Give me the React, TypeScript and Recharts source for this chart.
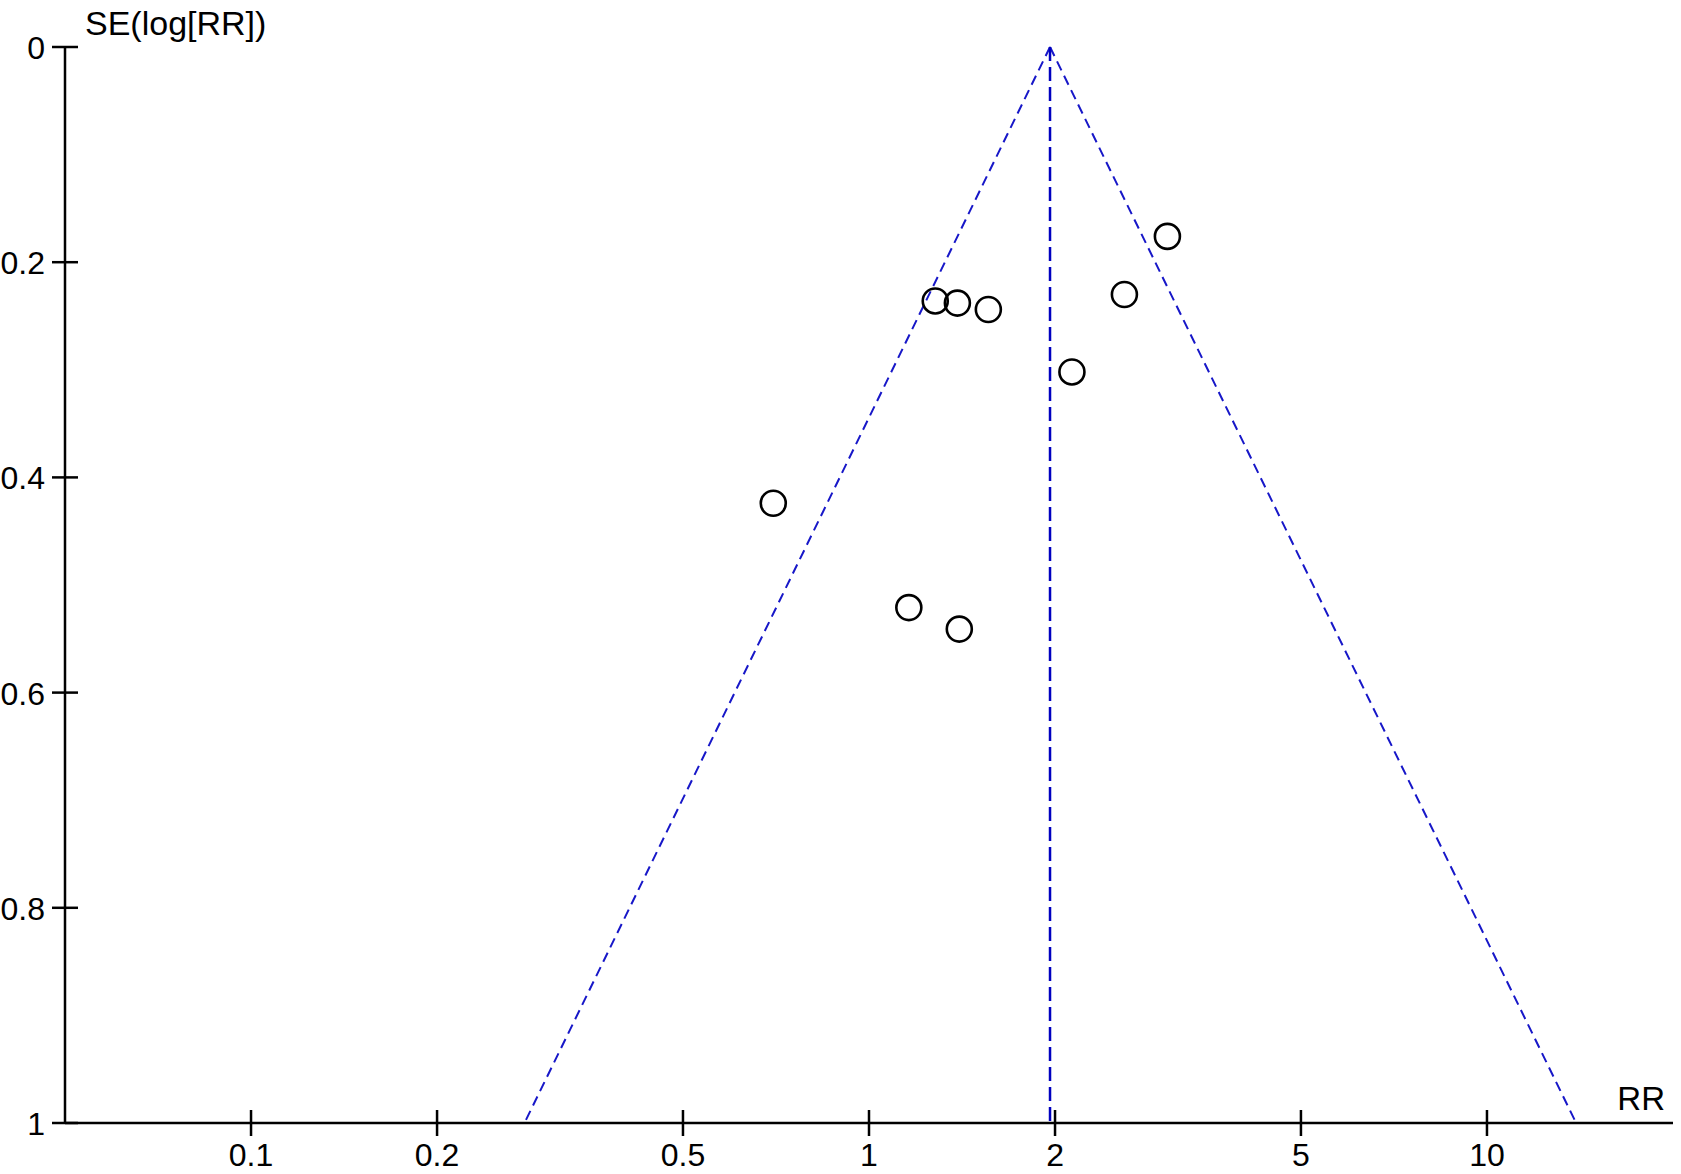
import { ReferenceLine, Scatter, ScatterChart, XAxis, YAxis } from "recharts";

// study estimates
const studyRR = [1.28, 1.39, 1.56, 3.04, 2.59, 2.13, 0.7, 1.16, 1.4];
const studySE = [0.236, 0.238, 0.244, 0.176, 0.23, 0.302, 0.424, 0.521, 0.541];

const pooledRR = 1.963;
const funnelLowRR = 0.277;
const funnelHighRR = 13.94;
const funnelBaseSE = 1;

const xTicks = [0.1, 0.2, 0.5, 1, 2, 5, 10];
const yTicks = [0, 0.2, 0.4, 0.6, 0.8, 1];

const studies = studyRR.map((rr, i) => ({ rr, se: studySE[i] }));

const FONT = "'Liberation Sans', Arial, sans-serif";
const BLUE = "#1717c8";

function XTick({ x, y, payload }: any) {
  return (
    <g>
      <line x1={x} x2={x} y1={y - 13} y2={y + 13} stroke="#000" strokeWidth={2.5} />
      <text x={x} y={y + 43} textAnchor="middle" fontSize={32} fontFamily={FONT} fill="#000">
        {String(payload.value)}
      </text>
    </g>
  );
}

function YTick({ x, y, payload }: any) {
  return (
    <g>
      <line x1={x - 13} x2={x + 13} y1={y} y2={y} stroke="#000" strokeWidth={2.5} />
      <text x={x - 20} y={y + 12} textAnchor="end" fontSize={32} fontFamily={FONT} fill="#000">
        {String(payload.value)}
      </text>
    </g>
  );
}

function Ring({ cx, cy }: any) {
  return <circle cx={cx} cy={cy} r={12.5} fill="none" stroke="#000" strokeWidth={2.6} />;
}

export default function App() {
  return (
    <div style={{ position: "absolute", left: 0, top: 0, background: "#fff" }}>
      <ScatterChart width={1681} height={1174} margin={{ top: 47, right: 8, bottom: 0, left: 0 }}>
        <XAxis
          type="number"
          dataKey="rr"
          scale="log"
          domain={[0.05, 20]}
          ticks={xTicks}
          allowDataOverflow
          height={51}
          tickSize={0}
          tickMargin={0}
          tickLine={false}
          tick={<XTick />}
          axisLine={{ stroke: "#000", strokeWidth: 2.5 }}
          interval={0}
          label={(p: any) => {
            const vb = p.viewBox;
            return (
              <text x={vb.x + vb.width - 8} y={vb.y - 13} textAnchor="end" fontSize={33} fontFamily={FONT} fill="#000">
                RR
              </text>
            );
          }}
        />
        <YAxis
          type="number"
          dataKey="se"
          domain={[0, 1]}
          reversed
          ticks={yTicks}
          width={65}
          tickSize={0}
          tickMargin={0}
          tickLine={false}
          tick={<YTick />}
          axisLine={{ stroke: "#000", strokeWidth: 2.5 }}
          interval={0}
          label={(p: any) => {
            const vb = p.viewBox;
            return (
              <text x={vb.x + vb.width + 20} y={vb.y - 12} fontSize={34} fontFamily={FONT} fill="#000">
                SE(log[RR])
              </text>
            );
          }}
        />
        <ReferenceLine
          segment={[{ x: pooledRR, y: 0 }, { x: funnelLowRR, y: funnelBaseSE }]}
          stroke={BLUE}
          strokeWidth={2}
          strokeDasharray="10 6"
        />
        <ReferenceLine
          segment={[{ x: pooledRR, y: 0 }, { x: funnelHighRR, y: funnelBaseSE }]}
          stroke={BLUE}
          strokeWidth={2}
          strokeDasharray="10 6"
        />
        <ReferenceLine
          segment={[{ x: pooledRR, y: 0 }, { x: pooledRR, y: funnelBaseSE }]}
          stroke="#0000c0"
          strokeWidth={2.5}
          strokeDasharray="14 6"
        />
        <Scatter data={studies} shape={<Ring />} isAnimationActive={false} />
      </ScatterChart>
    </div>
  );
}
